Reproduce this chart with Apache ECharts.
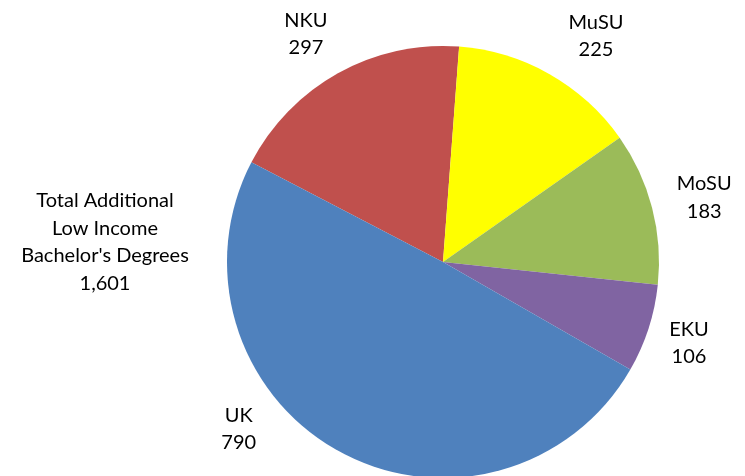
<!DOCTYPE html>
<html>
<head>
<meta charset="utf-8">
<script src="https://cdn.jsdelivr.net/npm/echarts@6/dist/echarts.min.js"></script>
<style>html,body{margin:0;padding:0;background:#fff}#c{width:745px;height:476px}</style>
</head>
<body>
<div id="c"></div>
<script>
// Data
const names = ['NKU', 'MuSU', 'MoSU', 'EKU', 'UK'];
const values = [297, 225, 183, 106, 790];
const colors = ['#C0504D', '#FFFF00', '#9BBB59', '#8064A2', '#4F81BD'];
const totalLines = ['Total Additional', 'Low Income', "Bachelor's Degrees"];

// Label placement styling (radial distance and angle shift per slice)
const labelDist = [266, 273, 269, 259, 264];
const labelShift = [1.9, -4.5, -0.7, -0.3, -22];

const cx = 443, cy = 262, R = 216, startAngle = 152.5;
const total = values.reduce((a, b) => a + b, 0);

function midAngle(i) {
  let acc = 0;
  for (let k = 0; k < i; k++) acc += values[k];
  return startAngle - (acc + values[i] / 2) / total * 360;
}

const chart = echarts.init(document.getElementById('c'), null, {renderer: 'canvas'});
chart.setOption({
  animation: false,
  backgroundColor: '#fff',
  graphic: [{
    type: 'text',
    x: 105, y: 242,
    style: {
      text: totalLines.join('\n') + '\n' + total.toLocaleString('en-US'),
      align: 'center', verticalAlign: 'middle',
      fontFamily: 'Lato', fontSize: 20, lineHeight: 27.5, fill: '#000'
    }
  }],
  series: [{
    type: 'pie',
    center: [cx, cy],
    radius: [0, R],
    startAngle: startAngle,
    clockwise: true,
    avoidLabelOverlap: false,
    itemStyle: {borderWidth: 0},
    label: {
      show: true,
      position: 'outside',
      formatter: p => p.name + '\n' + p.value,
      fontFamily: 'Lato', fontSize: 20, lineHeight: 27.5, color: '#000'
    },
    labelLine: {show: false},
    labelLayout: function (params) {
      const i = params.dataIndex;
      const a = (midAngle(i) + labelShift[i]) * Math.PI / 180;
      return {
        x: cx + labelDist[i] * Math.cos(a),
        y: cy - labelDist[i] * Math.sin(a),
        align: 'center',
        verticalAlign: 'middle'
      };
    },
    data: names.map((n, i) => ({name: n, value: values[i], itemStyle: {color: colors[i]}}))
  }]
});
</script>
</body>
</html>
